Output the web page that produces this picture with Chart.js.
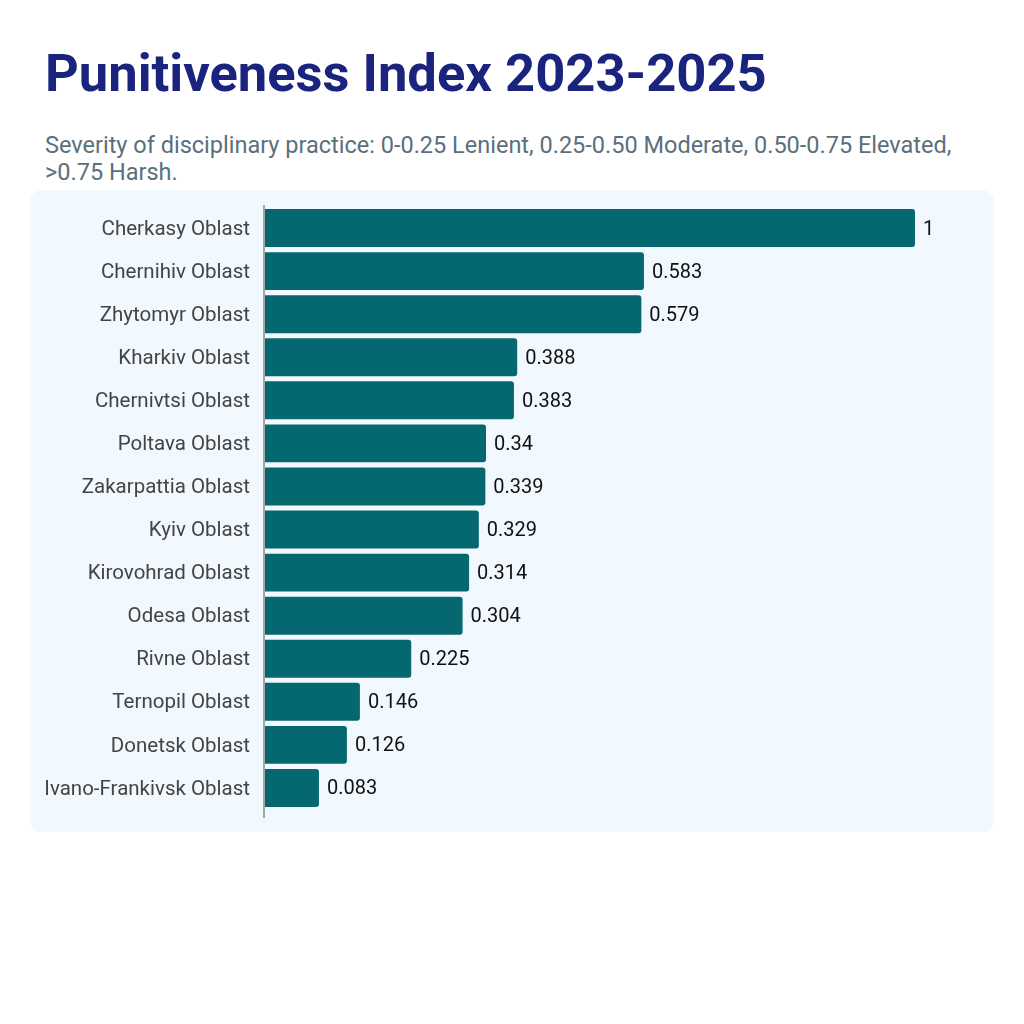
<!DOCTYPE html>
<html lang="en">
<head>
  <meta charset="UTF-8" />
  <title>Punitiveness Index 2023-2025</title>
  <script src="https://cdn.jsdelivr.net/npm/chart.js"></script>
  <style>
    body {
      margin: 0;
      width: 1024px;
      height: 1024px;
      background: #fff;
      font-family: Roboto, sans-serif;
      position: relative;
    }
    h1 {
      position: absolute;
      left: 45px;
      top: 38px;
      margin: 0;
      font-size: 52.5px;
      font-weight: 700;
      color: #1a237e;
      line-height: 70px;
    }
    .sub {
      position: absolute;
      left: 45px;
      top: 131.5px;
      width: 920px;
      margin: 0;
      font-size: 23.5px;
      line-height: 27px;
      color: #5b6f7c;
    }
    .panel {
      position: absolute;
      left: 30px;
      top: 190px;
      width: 964px;
      height: 642px;
      background: #f1f8fe;
      border-radius: 12px;
    }
    canvas { display: block; }
  </style>
</head>
<body>
<h1>Punitiveness Index 2023-2025</h1>
<p class="sub">Severity of disciplinary practice: 0-0.25 Lenient, 0.25-0.50 Moderate, 0.50-0.75 Elevated, &gt;0.75 Harsh.</p>
<div class="panel"><canvas id="chart" width="964" height="642"></canvas></div>

<script>
const regions = [
  'Cherkasy Oblast', 'Chernihiv Oblast', 'Zhytomyr Oblast', 'Kharkiv Oblast',
  'Chernivtsi Oblast', 'Poltava Oblast', 'Zakarpattia Oblast', 'Kyiv Oblast',
  'Kirovohrad Oblast', 'Odesa Oblast', 'Rivne Oblast', 'Ternopil Oblast',
  'Donetsk Oblast', 'Ivano-Frankivsk Oblast'
];
const index = [1, 0.583, 0.579, 0.388, 0.383, 0.34, 0.339, 0.329, 0.314, 0.304, 0.225, 0.146, 0.126, 0.083];

// value labels at bar ends + the axis line
const barLabels = {
  id: 'barLabels',
  afterDatasetsDraw(chart) {
    const ctx = chart.ctx;
    const area = chart.chartArea;
    ctx.save();
    ctx.strokeStyle = '#888';
    ctx.lineWidth = 1.5;
    ctx.beginPath();
    ctx.moveTo(area.left - 1, area.top - 1.5);
    ctx.lineTo(area.left - 1, area.bottom + 8.5);
    ctx.stroke();

    ctx.font = '20px Roboto';
    ctx.fillStyle = '#111';
    ctx.textBaseline = 'middle';
    chart.getDatasetMeta(0).data.forEach((bar, i) => {
      ctx.fillText(String(index[i]), bar.x + 8, bar.y + 1.5);
    });
    ctx.restore();
  }
};

new Chart(document.getElementById('chart'), {
  type: 'bar',
  data: {
    labels: regions,
    datasets: [{
      data: index,
      backgroundColor: '#056870',
      borderRadius: 3,
      borderSkipped: 'start',
      categoryPercentage: 1,
      barPercentage: 0.88
    }]
  },
  options: {
    indexAxis: 'y',
    responsive: false,
    animation: false,
    layout: { padding: { top: 16.5, bottom: 22.5, right: 79, left: 0 } },
    plugins: { legend: { display: false }, tooltip: { enabled: false } },
    scales: {
      x: { display: false, min: 0, max: 1 },
      y: {
        grid: { display: false, tickLength: 11 },
        border: { display: false },
        ticks: { color: '#444', font: { family: 'Roboto', size: 20.5 }, padding: 4, labelOffset: 1.5 },
        afterFit(scale) { scale.width = 235; }
      }
    }
  },
  plugins: [barLabels]
});
</script>
</body>
</html>
